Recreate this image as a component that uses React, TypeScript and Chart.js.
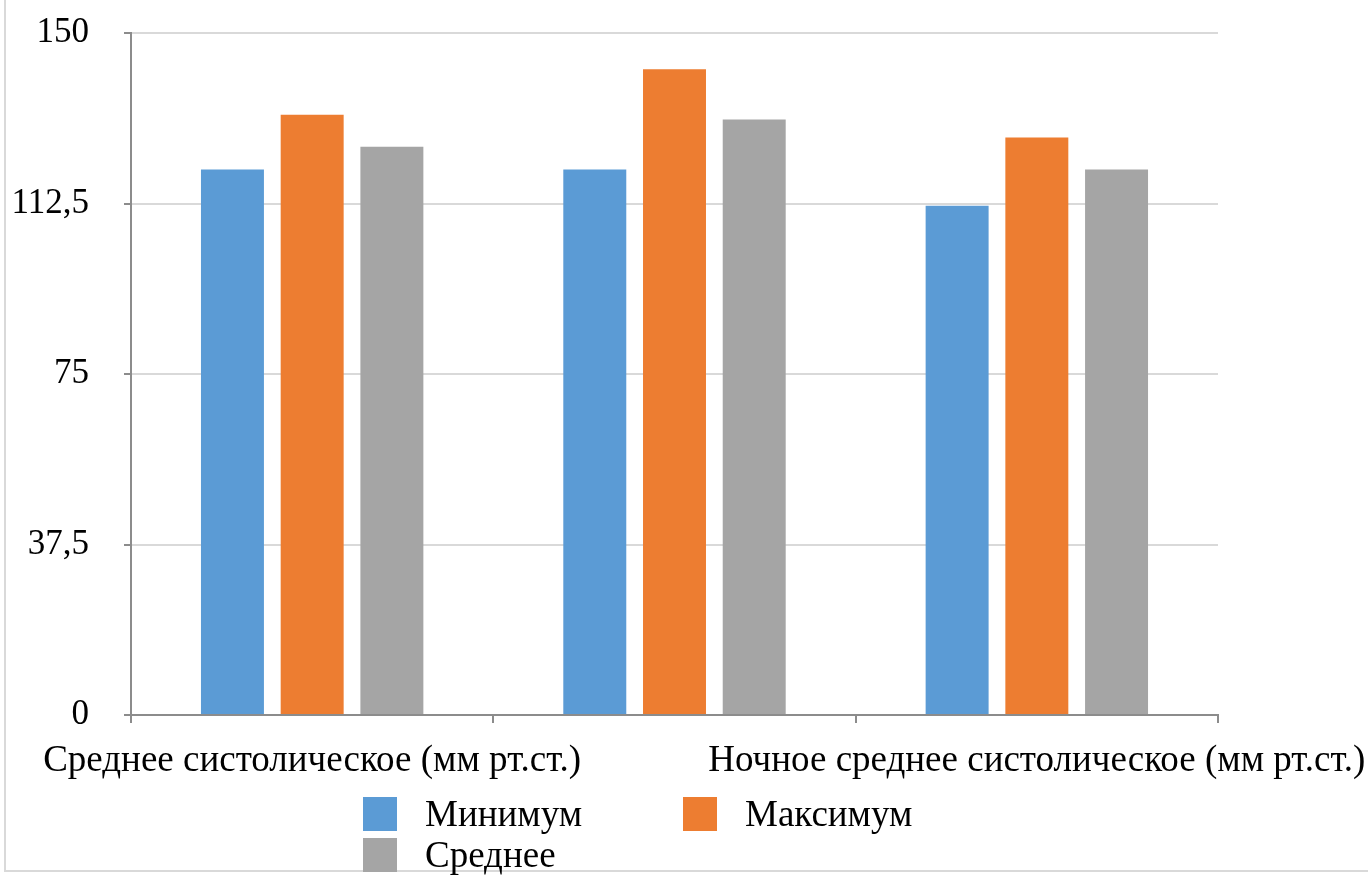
import React, { useEffect, useRef } from "react";
import { Chart, registerables } from "chart.js";

Chart.register(...registerables);

// Categories (the middle one carries no visible caption on the axis)
const categories: string[] = [
  "Среднее систолическое (мм рт.ст.)",
  "",
  "Ночное среднее систолическое (мм рт.ст.)",
];

const seriesNames: string[] = ["Минимум", "Максимум", "Среднее"];
const seriesColors: string[] = ["#5B9BD5", "#ED7D31", "#A5A5A5"];

const minimumValues: number[] = [120, 120, 112];
const maximumValues: number[] = [132, 142, 127];
const averageValues: number[] = [125, 131, 120];

const yTicks: number[] = [0, 37.5, 75, 112.5, 150];

const FONT = "'Liberation Serif', 'Times New Roman', serif";
const AXIS_COLOR = "#8c8c8c";
const GRID_COLOR = "#d9d9d9";

// Draws the category captions centred under each group of bars
const categoryLabelPlugin = {
  id: "categoryLabels",
  afterDraw(chart: any) {
    const { ctx } = chart;
    const xScale = chart.scales.x;
    ctx.save();
    ctx.font = `37px ${FONT}`;
    ctx.fillStyle = "#000000";
    ctx.textAlign = "center";
    ctx.textBaseline = "alphabetic";
    categories.forEach((label, i) => {
      if (!label) return;
      ctx.fillText(label, xScale.getPixelForValue(i), chart.chartArea.bottom + 56);
    });
    ctx.restore();
  },
};

export default function App() {
  const canvasRef = useRef<HTMLCanvasElement | null>(null);

  useEffect(() => {
    if (!canvasRef.current) return;
    const series = [minimumValues, maximumValues, averageValues];
    const chart = new Chart(canvasRef.current, {
      type: "bar",
      data: {
        labels: categories,
        datasets: series.map((values, i) => ({
          label: seriesNames[i],
          data: values,
          backgroundColor: seriesColors[i],
          borderWidth: 0,
          barPercentage: 0.79,
          categoryPercentage: 0.66,
        })),
      },
      options: {
        responsive: false,
        animation: false,
        layout: { padding: { left: 0, top: 33, right: 150, bottom: 160 } },
        plugins: {
          legend: { display: false },
          tooltip: { enabled: false },
        },
        scales: {
          x: {
            ticks: { display: false },
            grid: {
              offset: true,
              drawOnChartArea: false,
              drawTicks: true,
              tickLength: 8,
              tickColor: AXIS_COLOR,
              lineWidth: 2,
            },
            border: { color: AXIS_COLOR, width: 2 },
            afterFit(scale: any) {
              scale.height = 0;
            },
          },
          y: {
            min: 0,
            max: 150,
            afterBuildTicks(scale: any) {
              scale.ticks = yTicks.map((v) => ({ value: v }));
            },
            ticks: {
              font: { family: FONT, size: 35 },
              color: "#000000",
              padding: 35,
              callback: (v: any) => String(v).replace(".", ","),
            },
            grid: {
              color: GRID_COLOR,
              lineWidth: 2,
              tickLength: 7,
              tickColor: AXIS_COLOR,
            },
            border: { color: AXIS_COLOR, width: 2 },
            afterFit(scale: any) {
              scale.width = 131;
              scale.paddingTop = 0;
              scale.paddingBottom = 0;
            },
          },
        },
      },
      plugins: [categoryLabelPlugin],
    });
    return () => chart.destroy();
  }, []);

  const legendPos = [
    { left: 363, top: 797 },
    { left: 683, top: 797 },
    { left: 363, top: 838 },
  ];

  return (
    <div
      style={{
        position: "absolute",
        left: 0,
        top: 0,
        width: 1368,
        height: 875,
        overflow: "hidden",
        background: "#ffffff",
      }}
    >
      <canvas ref={canvasRef} width={1368} height={875} style={{ position: "absolute", left: 0, top: 0 }} />
      <div
        style={{
          position: "absolute",
          left: 4,
          top: -4,
          width: 1370,
          height: 876,
          borderLeft: `2px solid ${GRID_COLOR}`,
          borderBottom: `2px solid ${GRID_COLOR}`,
          boxSizing: "border-box",
          pointerEvents: "none",
        }}
      />
      {seriesNames.map((name, i) => (
        <div
          key={name}
          style={{
            position: "absolute",
            left: legendPos[i].left,
            top: legendPos[i].top,
            display: "flex",
            alignItems: "center",
            height: 34,
          }}
        >
          <div style={{ width: 34, height: 34, background: seriesColors[i] }} />
          <span
            style={{
              marginLeft: 28,
              fontFamily: FONT,
              fontSize: 37,
              color: "#000000",
              lineHeight: "34px",
              whiteSpace: "nowrap",
            }}
          >
            {name}
          </span>
        </div>
      ))}
    </div>
  );
}
